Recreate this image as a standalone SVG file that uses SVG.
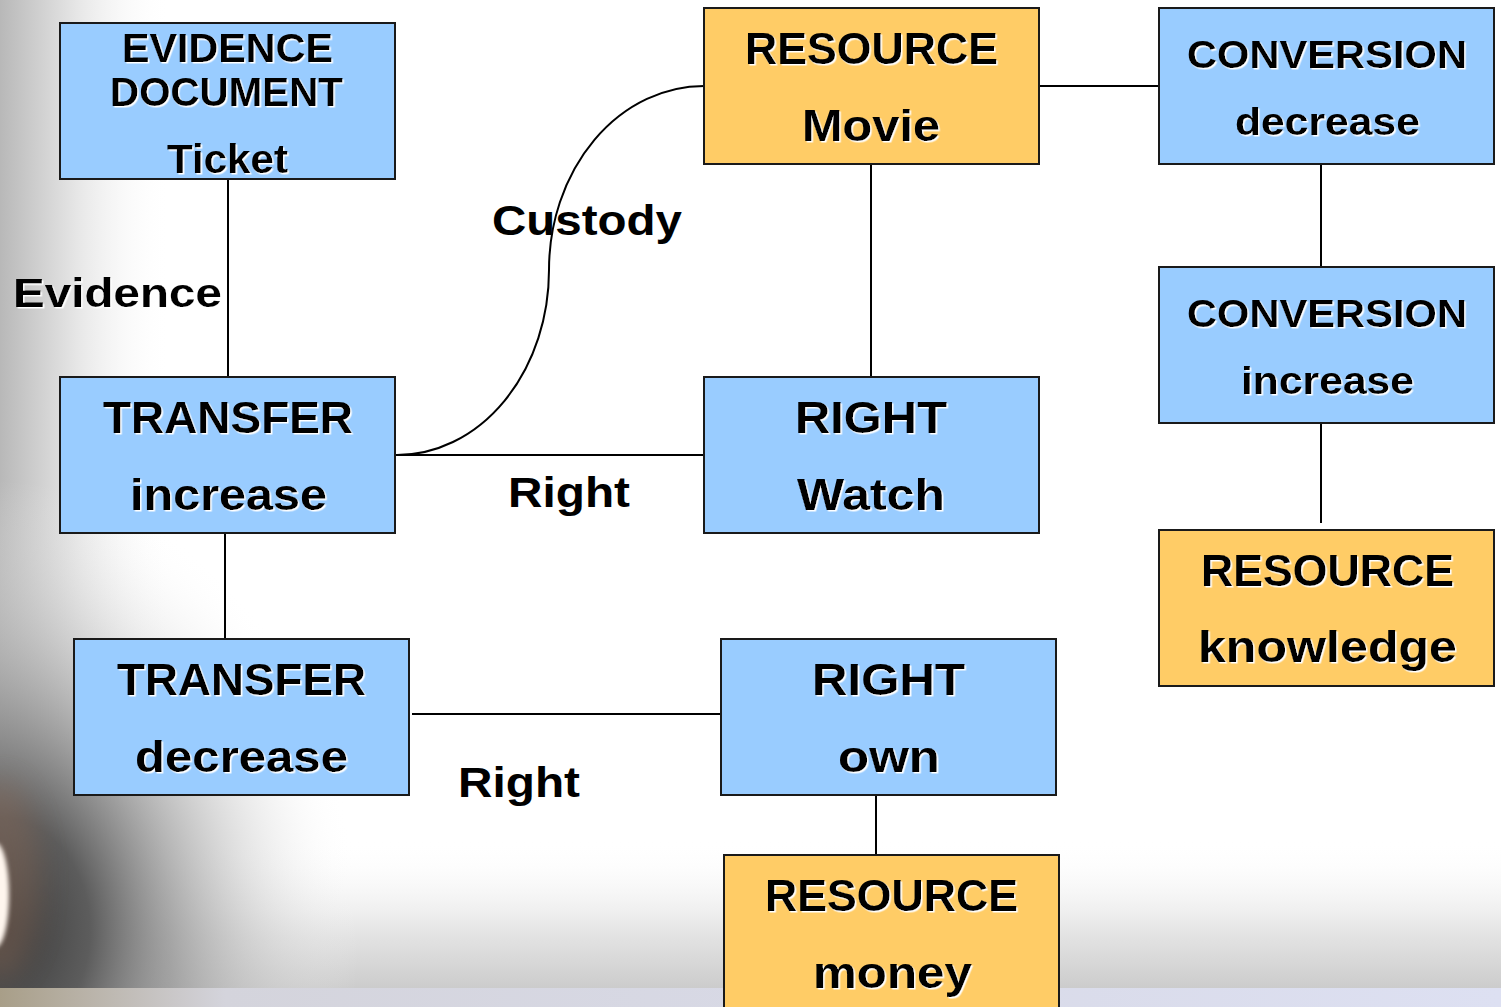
<svg xmlns="http://www.w3.org/2000/svg" width="1501" height="1007" viewBox="0 0 1501 1007">
<defs>
<style>
.box{stroke:#1a1a1a;stroke-width:2}
.blue{fill:#99CCFF}
.orange{fill:#FFCC66}
.t{font-family:"Liberation Sans",Arial,sans-serif;font-weight:bold;fill:#000;text-anchor:middle}
.sh{filter:url(#wsh)}
.conn{fill:none;stroke:#000;stroke-width:2}
</style>
<filter id="wsh" x="-5%" y="-20%" width="110%" height="140%">
<feDropShadow dx="1.5" dy="1.5" stdDeviation="0" flood-color="#ffffff" flood-opacity="1"/>
</filter>
<filter id="blur8" x="-100%" y="-100%" width="300%" height="300%"><feGaussianBlur stdDeviation="14"/></filter>
<filter id="blur2" x="-100%" y="-100%" width="300%" height="300%"><feGaussianBlur stdDeviation="2"/></filter>
<linearGradient id="leftG" x1="0" y1="0" x2="1" y2="0">
<stop offset="0" stop-color="#b8b8b8"/>
<stop offset="0.45" stop-color="#e6e6e6"/>
<stop offset="1" stop-color="#ffffff" stop-opacity="0"/>
</linearGradient>
<linearGradient id="bottomG" x1="0" y1="0" x2="0" y2="1">
<stop offset="0" stop-color="#ffffff" stop-opacity="0"/>
<stop offset="0.6" stop-color="#e6e6e6"/>
<stop offset="1" stop-color="#cccccc"/>
</linearGradient>
<radialGradient id="darkG" cx="0" cy="930" r="360" gradientUnits="userSpaceOnUse" gradientTransform="translate(0,930) scale(1,1.25) translate(0,-930)">
<stop offset="0" stop-color="#383838"/>
<stop offset="0.25" stop-color="#555555" stop-opacity="0.95"/>
<stop offset="0.6" stop-color="#a8a8a8" stop-opacity="0.55"/>
<stop offset="1" stop-color="#ffffff" stop-opacity="0"/>
</radialGradient>
<linearGradient id="bandG" x1="0" y1="0" x2="1" y2="0">
<stop offset="0" stop-color="#a89e88"/>
<stop offset="0.15" stop-color="#d4d4dc"/>
<stop offset="1" stop-color="#dde0f2"/>
</linearGradient>
</defs>

<g id="background">
<rect x="0" y="0" width="1501" height="1007" fill="#ffffff"/>
<rect x="0" y="840" width="1501" height="148" fill="url(#bottomG)"/>
<rect x="0" y="0" width="170" height="1007" fill="url(#leftG)"/>
<rect x="0" y="0" width="1501" height="988" fill="url(#darkG)"/>
<ellipse cx="0" cy="880" rx="40" ry="100" fill="#8a6a58" opacity="0.45" filter="url(#blur8)"/>
<ellipse cx="-4" cy="895" rx="13" ry="52" fill="#fff6ee" filter="url(#blur2)"/>
<rect x="0" y="988" width="1501" height="19" fill="url(#bandG)"/>
</g>

<g id="connectors">
<line class="conn" x1="228" y1="179" x2="228" y2="377"/>
<line class="conn" x1="225" y1="533" x2="225" y2="639"/>
<path class="conn" d="M397,455 A152,185 0 0 0 549,270 A155,184 0 0 1 704,86"/>
<line class="conn" x1="395" y1="455" x2="704" y2="455"/>
<line class="conn" x1="871" y1="164" x2="871" y2="377"/>
<line class="conn" x1="1039" y1="86" x2="1159" y2="86"/>
<line class="conn" x1="1321" y1="164" x2="1321" y2="267"/>
<line class="conn" x1="1321" y1="423" x2="1321" y2="523"/>
<line class="conn" x1="412" y1="714" x2="721" y2="714"/>
<line class="conn" x1="876" y1="795" x2="876" y2="855"/>
</g>

<g id="edge-labels">
<text class="t sh" x="117.5" y="307" font-size="40" textLength="209" lengthAdjust="spacingAndGlyphs">Evidence</text>
<text class="t" x="587" y="235" font-size="43" textLength="190" lengthAdjust="spacingAndGlyphs">Custody</text>
<text class="t" x="569" y="507" font-size="43" textLength="122" lengthAdjust="spacingAndGlyphs">Right</text>
<text class="t" x="519" y="797" font-size="43" textLength="122" lengthAdjust="spacingAndGlyphs">Right</text>
</g>

<g id="node-evidence-document">
<rect class="box blue" x="60" y="23" width="335" height="156"/>
<text class="t sh" x="227.5" y="62" font-size="40" textLength="211" lengthAdjust="spacingAndGlyphs">EVIDENCE</text>
<text class="t sh" x="226.5" y="106" font-size="40" textLength="233" lengthAdjust="spacingAndGlyphs">DOCUMENT</text>
<text class="t sh" x="227.5" y="173" font-size="40" textLength="121" lengthAdjust="spacingAndGlyphs">Ticket</text>
</g>

<g id="node-resource-movie">
<rect class="box orange" x="704" y="8" width="335" height="156"/>
<text class="t sh" x="871.5" y="64" font-size="44" textLength="253" lengthAdjust="spacingAndGlyphs">RESOURCE</text>
<text class="t sh" x="871" y="141" font-size="44" textLength="138" lengthAdjust="spacingAndGlyphs">Movie</text>
</g>

<g id="node-conversion-decrease">
<rect class="box blue" x="1159" y="8" width="335" height="156"/>
<text class="t sh" x="1327" y="68" font-size="38" textLength="280" lengthAdjust="spacingAndGlyphs">CONVERSION</text>
<text class="t sh" x="1327.5" y="135" font-size="38" textLength="185" lengthAdjust="spacingAndGlyphs">decrease</text>
</g>

<g id="node-conversion-increase">
<rect class="box blue" x="1159" y="267" width="335" height="156"/>
<text class="t sh" x="1327" y="327" font-size="38" textLength="280" lengthAdjust="spacingAndGlyphs">CONVERSION</text>
<text class="t sh" x="1327.5" y="394" font-size="38" textLength="173" lengthAdjust="spacingAndGlyphs">increase</text>
</g>

<g id="node-resource-knowledge">
<rect class="box orange" x="1159" y="530" width="335" height="156"/>
<text class="t sh" x="1327.5" y="586" font-size="44" textLength="253" lengthAdjust="spacingAndGlyphs">RESOURCE</text>
<text class="t sh" x="1327.5" y="662" font-size="44" textLength="259" lengthAdjust="spacingAndGlyphs">knowledge</text>
</g>

<g id="node-transfer-increase">
<rect class="box blue" x="60" y="377" width="335" height="156"/>
<text class="t sh" x="228" y="433" font-size="44" textLength="250" lengthAdjust="spacingAndGlyphs">TRANSFER</text>
<text class="t sh" x="228.5" y="510" font-size="44" textLength="197" lengthAdjust="spacingAndGlyphs">increase</text>
</g>

<g id="node-right-watch">
<rect class="box blue" x="704" y="377" width="335" height="156"/>
<text class="t sh" x="871" y="433" font-size="44" textLength="152" lengthAdjust="spacingAndGlyphs">RIGHT</text>
<text class="t sh" x="871" y="510" font-size="44" textLength="148" lengthAdjust="spacingAndGlyphs">Watch</text>
</g>

<g id="node-transfer-decrease">
<rect class="box blue" x="74" y="639" width="335" height="156"/>
<text class="t sh" x="241.5" y="695" font-size="44" textLength="249" lengthAdjust="spacingAndGlyphs">TRANSFER</text>
<text class="t sh" x="241.5" y="772" font-size="44" textLength="213" lengthAdjust="spacingAndGlyphs">decrease</text>
</g>

<g id="node-right-own">
<rect class="box blue" x="721" y="639" width="335" height="156"/>
<text class="t sh" x="888.5" y="695" font-size="44" textLength="153" lengthAdjust="spacingAndGlyphs">RIGHT</text>
<text class="t sh" x="889" y="772" font-size="44" textLength="102" lengthAdjust="spacingAndGlyphs">own</text>
</g>

<g id="node-resource-money">
<rect class="box orange" x="724" y="855" width="335" height="160"/>
<text class="t sh" x="891.5" y="911" font-size="44" textLength="253" lengthAdjust="spacingAndGlyphs">RESOURCE</text>
<text class="t sh" x="892.5" y="988" font-size="44" textLength="159" lengthAdjust="spacingAndGlyphs">money</text>
</g>
</svg>
